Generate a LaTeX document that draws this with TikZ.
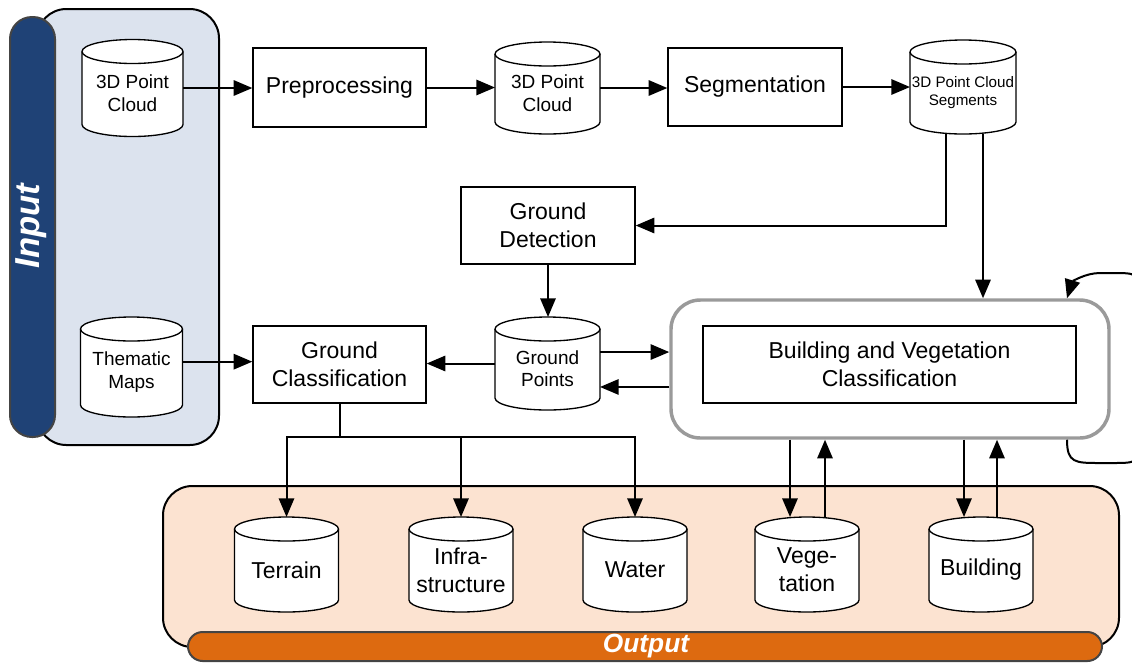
\documentclass[tikz,border=0pt]{standalone}
\usepackage{fontspec}
\setmainfont{Liberation Sans}
\usetikzlibrary{arrows.meta}

\definecolor{inpanel}{HTML}{DCE3EE}
\definecolor{inbar}{HTML}{1F4276}
\definecolor{barline}{HTML}{444444}
\definecolor{outpanel}{HTML}{FCE3D1}
\definecolor{outbar}{HTML}{DD6A10}
\definecolor{framegray}{HTML}{9A9A9A}

\tikzset{
  proc/.style={draw, line width=1pt, fill=white, align=center, inner sep=0pt,
    font=\fontsize{17.25}{21}\selectfont},
  arr/.style={line width=1.5pt, -{Triangle[length=14pt,width=11.5pt]}},
  conn/.style={line width=1.5pt},
  cylframe/.style={rectangle, inner sep=0pt, outer sep=0pt},
  cylline/.style={draw, line width=1pt, fill=white},
  smalltext/.style={align=center, font=\fontsize{14.25}{17}\selectfont},
  tinytext/.style={align=center, font=\fontsize{11.4}{13.5}\selectfont},
  bigtext/.style={align=center, font=\fontsize{17.25}{21}\selectfont},
  panel/.style={draw, line width=1.5pt, rounded corners=22pt},
  bandtitle/.style={text=white, font=\fontsize{26}{30}\selectfont\bfseries\itshape},
}

% data store drawn as a cylinder: name, x, y, width, height, text style, text
\newcommand\dbstore[7]{%
  \node[cylframe, minimum width=#4, minimum height=#5] (#1) at (#2,#3) {};
  \path[cylline] ([yshift=-9pt]#1.north west) -- ([yshift=9pt]#1.south west)
    arc[start angle=180, end angle=360, x radius=#4/2, y radius=9pt]
    -- ([yshift=-9pt]#1.north east)
    arc[start angle=0, end angle=180, x radius=#4/2, y radius=9pt] -- cycle;
  \draw[line width=1pt] ([yshift=-9pt]#1.north west)
    arc[start angle=180, end angle=360, x radius=#4/2, y radius=9pt];
  \node[#6] at ([yshift=-4pt]#1.center) {#7};
}

\begin{document}
\begin{tikzpicture}[x=0.75pt, y=-0.75pt]
\useasboundingbox (0,0) rectangle (1132,662);
\clip (0,0) rectangle (1132,662);

% input panel
\draw[panel, fill=inpanel] (37,9) rectangle (219,445);
\draw[line width=1.5pt, draw=barline, fill=inbar, rounded corners=16.5pt] (10,17) rectangle (55,437);
\node[bandtitle, rotate=90] (intitle) at (31,226) {Input};

% output panel
\draw[panel, fill=outpanel] (163,486) rectangle (1119,647);
\draw[line width=1.5pt, draw=barline, fill=outbar, rounded corners=11pt] (188,632) rectangle (1102,661);
\node[bandtitle, font=\fontsize{19.7}{24}\selectfont\bfseries\itshape] (outtitle) at (646,646) {Output};

% processing steps
\node[proc, minimum width=129.75pt, minimum height=59.25pt] (prep) at (339.5,87.5) {Preprocessing};
\node[proc, minimum width=130.5pt, minimum height=58.5pt] (seg) at (755,87) {Segmentation};
\node[proc, minimum width=130.5pt, minimum height=57.75pt] (gdet) at (548,225.5) {Ground\\Detection};
\node[proc, minimum width=129.75pt, minimum height=57.75pt] (gcls) at (339.5,364.5) {Ground\\Classification};
\node[draw=framegray, line width=2.6pt, fill=white, rounded corners=22pt,
      minimum width=328.5pt, minimum height=103.5pt] (bvo) at (890,369) {};
\node[proc, minimum width=279.75pt, minimum height=57.75pt] (bvc) at (889.5,364.5) {Building and Vegetation\\Classification};

% data stores
\dbstore{in1}{132.5}{88}{75.75pt}{72.75pt}{smalltext}{3D Point\\Cloud}
\dbstore{them}{131.5}{367}{76.5pt}{75pt}{smalltext}{Thematic\\Maps}
\dbstore{pc2}{547.5}{88}{78.75pt}{69pt}{smalltext}{3D Point\\Cloud}
\dbstore{segc}{963}{87}{79.5pt}{70.5pt}{tinytext}{3D Point Cloud\\Segments}
\dbstore{gpts}{547.5}{363.5}{78.75pt}{69.75pt}{smalltext}{Ground\\Points}
\dbstore{terrain}{286.5}{564.5}{78pt}{71.25pt}{bigtext}{Terrain}
\dbstore{infra}{461}{564.5}{78pt}{71.25pt}{bigtext}{Infra-\\structure}
\dbstore{water}{635}{564.5}{78pt}{71.25pt}{bigtext}{Water}
\dbstore{veg}{807}{564.5}{78pt}{71.25pt}{bigtext}{Vege-\\tation}
\dbstore{bld}{981}{564.5}{78pt}{71.25pt}{bigtext}{Building}

% top chain
\draw[arr] (in1.east) -- (in1.east -| prep.west);
\draw[arr] (prep.east) -- (prep.east -| pc2.west);
\draw[arr] (pc2.east) -- (pc2.east -| seg.west);
\draw[arr] (seg.east) -- (seg.east -| segc.west);

% segments to ground detection and to building/vegetation classification
\coordinate (sl) at ([xshift=-12.75pt]segc.south);
\coordinate (sr) at ([xshift=15pt]segc.south);
\draw[arr] (sl) |- (gdet.east);
\draw[arr] (sr) -- (sr |- bvo.north);

% ground points
\draw[arr] (gdet.south) -- (gdet.south |- gpts.north);
\draw[arr] (gpts.west) -- (gpts.west -| gcls.east);
\coordinate (ga) at ([yshift=8.6pt]gpts.east);
\coordinate (gb) at ([yshift=-17.6pt]gpts.east);
\draw[arr] (ga) -- (ga -| bvo.west);
\draw[arr] (gb -| bvo.west) -- (gb);

% thematic maps
\coordinate (tm) at ([yshift=4pt]them.east);
\draw[arr] (tm) -- (tm -| gcls.west);

% ground classification results
\coordinate (fan) at (340,437);
\draw[conn] (gcls.south) -- (gcls.south |- fan);
\draw[arr] (gcls.south |- fan) -| (terrain.north);
\draw[arr] (gcls.south |- fan) -| (infra.north);
\draw[arr] (gcls.south |- fan) -| (water.north);

% building / vegetation results and feedback
\coordinate (vd) at ([xshift=-12.75pt]veg.north);
\coordinate (vu) at ([xshift=13.5pt]veg.north);
\coordinate (bd) at ([xshift=-12.75pt]bld.north);
\coordinate (bu) at ([xshift=12pt]bld.north);
\draw[arr] (vd |- bvo.south) -- (vd);
\draw[arr] (vu) -- (vu |- bvo.south);
\draw[arr] (bd |- bvo.south) -- (bd);
\draw[arr] (bu) -- (bu |- bvo.south);

% iteration loop on the classification
\coordinate (lx) at (1067,0);
\coordinate (ls) at (bvo.south -| lx);
\coordinate (le) at (bvo.north -| lx);
\draw[arr] (ls) .. controls (1067,463) and (1075,463) .. (1100,463) -- (1112,463)
  .. controls (1138,463) .. (1138,440) -- (1138,296)
  .. controls (1138,273) .. (1112,273) -- (1100,273)
  .. controls (1085,273) and (1072,282) .. (le);
\end{tikzpicture}
\end{document}
